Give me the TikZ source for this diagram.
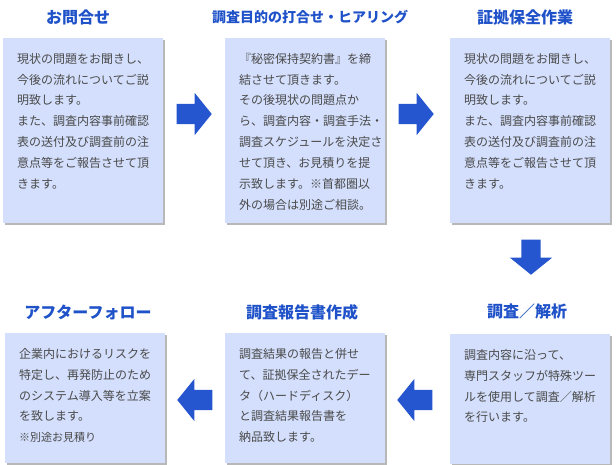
\documentclass[tikz,border=0pt]{standalone}
\usepackage{fontspec}
\setmainfont{Noto Sans CJK JP}
\usetikzlibrary{shapes.arrows, shadows, positioning}
\definecolor{boxbg}{HTML}{D3DFFC}
\definecolor{titleblue}{HTML}{1F52C9}
\definecolor{arrowblue}{HTML}{2556D0}
\definecolor{bodytext}{HTML}{4A4A4A}
\hfuzz=60pt
\tikzset{
  stepbox/.style={
    fill=boxbg,
    anchor=north west,
    align=left,
    text width=132pt,
    inner xsep=14pt,
    inner ysep=0pt,
    text height=25pt,
    text=bodytext,
    font=\fontsize{12pt}{20.9pt}\selectfont,
    drop shadow={shadow xshift=1.5pt, shadow yshift=-1.5pt, fill=black!28, opacity=1}
  },
  tallbox/.style={stepbox, text depth=160pt},
  shortbox/.style={stepbox, text depth=105pt},
  steptitle/.style={
    font=\bfseries\fontsize{16pt}{18pt}\selectfont,
    text=titleblue,
    inner sep=0pt
  },
  flowarrow/.style={
    single arrow,
    fill=arrowblue,
    minimum width=42pt,
    single arrow head extend=11pt,
    single arrow tip angle=102,
    minimum height=35pt,
    inner xsep=0pt,
    inner ysep=10pt,
    anchor=tip
  }
}
\begin{document}
\begin{tikzpicture}[x=1pt, y=-1pt]
  \useasboundingbox (0,0) rectangle (616,465);

  % Titles
  \node (t1) [steptitle] at (78,17) {お問合せ};
  \node (t2) [steptitle, font=\bfseries\fontsize{14pt}{16pt}\selectfont] at (310,17) {調査目的の打合せ・ヒアリング};
  \node (t3) [steptitle] at (525,17) {証拠保全作業};
  \node (t4) [steptitle] at (88,312) {アフターフォロー};
  \node (t5) [steptitle] at (302,312) {調査報告書作成};
  \node (t6) [steptitle] at (527,311) {調査／解析};

  % Steps
  \node (s1) [tallbox] at (3,38) {現状の問題をお聞きし、\\今後の流れについてご説\\明致します。\\また、調査内容事前確認\\表の送付及び調査前の注\\意点等をご報告させて頂\\きます。};

  \node (s2) [tallbox] at (225,38) {『秘密保持契約書』を締\\結させて頂きます。\\その後現状の問題点か\\ら、調査内容・調査手法・\\調査スケジュールを決定さ\\せて頂き、お見積りを提\\示致します。※首都圏以\\外の場合は別途ご相談。};

  \node (s3) [tallbox] at (450,38) {現状の問題をお聞きし、\\今後の流れについてご説\\明致します。\\また、調査内容事前確認\\表の送付及び調査前の注\\意点等をご報告させて頂\\きます。};

  \node (s6) [shortbox] at (450,334) {調査内容に沿って、\\専門スタッフが特殊ツー\\ルを使用して調査／解析\\を行います。};

  \node (s5) [shortbox] at (225,333) {調査結果の報告と併せ\\て、証拠保全されたデー\\タ（ハードディスク）\\と調査結果報告書を\\納品致します。};

  \node (s4) [shortbox] at (5,333) {企業内におけるリスクを\\特定し、再発防止のため\\のシステム導入等を立案\\を致します。\\{\fontsize{11pt}{20.9pt}\selectfont ※別途お見積り}};

  % Arrows
  \node (a12) [flowarrow] at (212,114) {};
  \node (a23) [flowarrow] at (434,114) {};
  \node (a36) [flowarrow, shape border rotate=270, inner xsep=9pt, inner ysep=0pt] at (531,275) {};
  \node (a65) [flowarrow, shape border rotate=180] at (397,400) {};
  \node (a54) [flowarrow, shape border rotate=180] at (177,400) {};

\end{tikzpicture}
\end{document}
